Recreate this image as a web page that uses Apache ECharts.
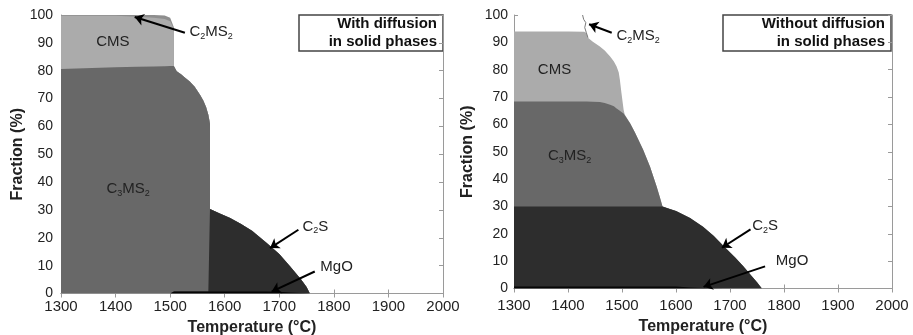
<!DOCTYPE html>
<html>
<head>
<meta charset="utf-8">
<script src="https://cdn.jsdelivr.net/npm/echarts@6/dist/echarts.min.js"></script>
<style>
html,body{margin:0;padding:0;background:#fff;}
#chart{width:913px;height:335px;}
</style>
</head>
<body>
<div id="chart"></div>
<script>
// left panel: with diffusion in solid phases (phase fractions, %)
const tempWith  = [1300,1400,1440,1470,1490,1500,1507,1507,1512,1520,1528,1536,1545,1555,1561,1566,1570,1573,1573,1590,1610,1630,1650,1677,1700,1720,1740,1750,1756];
const mgoWith   = [0,0,0,0,0,0,0.7,0.7,0.7,0.7,0.7,0.7,0.7,0.7,0.7,0.7,0.7,0.7,0.7,0.7,0.7,0.7,0.7,0.7,0.6,0.4,0.2,0.1,0];
const c2sWith   = [0,0,0,0,0,0,0,0,0,0,0,0,0,0,0,0,0,0,29.6,28.1,26.4,24.3,21.8,17.4,13.6,9.3,4.8,2.2,0];
const c3ms2With = [80.6,81.2,81.4,81.5,81.6,81.7,81.0,80.8,79.1,78.0,76.7,75.4,73.5,70.6,68.5,66.2,63.5,60.3,0,0,0,0,0,0,0,0,0,0,0];
const cmsWith   = [19.1,18.5,18.0,17.5,17.0,16.1,13.3,0,0,0,0,0,0,0,0,0,0,0,0,0,0,0,0,0,0,0,0,0,0];
const c2ms2With = [0.3,0.3,0.6,1.0,1.2,1.2,0.5,0,0,0,0,0,0,0,0,0,0,0,0,0,0,0,0,0,0,0,0,0,0];

// right panel: without diffusion in solid phases
const tempWithout  = [1300,1400,1430,1434,1437,1446,1459,1468,1478,1485,1490,1494,1496,1499,1503,1505,1515,1524,1539,1552,1564,1570,1575,1590,1600,1626,1650,1670,1688,1710,1725,1740,1750,1759];
const mgoWithout   = [0.7,0.7,0.7,0.7,0.7,0.7,0.7,0.7,0.7,0.7,0.7,0.7,0.7,0.7,0.7,0.7,0.7,0.7,0.7,0.7,0.7,0.7,0.7,0.7,0.7,0.4,0.2,0.1,0,0,0,0,0,0];
const c2sWithout   = [29.3,29.3,29.3,29.3,29.3,29.3,29.3,29.3,29.3,29.3,29.3,29.3,29.3,29.3,29.3,29.3,29.3,29.3,29.3,29.3,29.3,29.3,29.3,28.3,27.6,25.4,22.4,19.1,15.5,11.2,8.0,4.6,2.3,0];
const c3ms2Without = [38.4,38.4,38.4,38.4,38.4,38.3,38.2,37.8,37.2,36.6,35.8,35.3,34.9,34.5,34.0,33.6,30.4,27.0,20.8,14.5,7.4,3.5,0,0,0,0,0,0,0,0,0,0,0,0];
const cmsWithout   = [25.6,25.6,25.5,25.0,23.3,21.9,20.3,19.2,17.6,16.4,15.4,13.7,11.5,7.0,1.4,0,0,0,0,0,0,0,0,0,0,0,0,0,0,0,0,0,0,0];
// thin C2MS2 boundary (temperature, cumulative %)
const c2ms2EdgeTemp = [1427,1429,1433,1431,1434,1437];
const c2ms2EdgeFrac = [100,98.4,97.2,95.4,93.5,91.7];

// phase labels: [temperature, fraction, text]
const labelsWith = [[1395,90.2,'CMS'],[1423,37.5,'C3MS2'],[1575,94.0,'C2MS2'],[1766,24.1,'C2S'],[1805,9.7,'MgO']];
const labelsWithout = [[1375,80,'CMS'],[1403,48.5,'C3MS2'],[1530,92.2,'C2MS2'],[1765,22.8,'C2S'],[1815,10,'MgO']];
// arrows: [fromT, fromF, toT, toF]
const arrowsWith = [[1527,93.6,1435,99.3],[1735,22.9,1683,16.3],[1765,7.9,1686,0.7]];
const arrowsWithout = [[1481,93.5,1439,96.6],[1738,21.6,1685,14.9],[1765,8.1,1651,0.6]];

const FONT = '"Liberation Sans", Arial, sans-serif';
const colors = {mgo:'#050505', c2s:'#2d2d2d', c3ms2:'#686868', cms:'#ababab', c2ms2:'#8e8e8e'};

// running sums: each layer is filled from 0 up to its cumulative top,
// upper layers are drawn first so the lower ones cover them
function cumulative(layers) {
  let acc = layers[0].map(() => 0);
  return layers.map(l => (acc = acc.map((a, i) => +(a + l[i]).toFixed(2))));
}

function area(name, temps, tops, color, idx) {
  return {
    name: name, type: 'line', xAxisIndex: idx, yAxisIndex: idx,
    data: temps.map((t, i) => [t, tops[i]]),
    symbol: 'none', lineStyle: {width: 0}, areaStyle: {color: color, opacity: 1, origin: 'start'},
    itemStyle: {color: color}, silent: true
  };
}

function layerSeries(temps, names, layers, idx) {
  const tops = cumulative(layers);
  const out = [];
  for (let k = layers.length - 1; k >= 0; k--) {
    out.push(area(names[k], temps, tops[k], colors[names[k]], idx));
  }
  return out;
}

function richName(s) {
  return ('{n|' + s.replace(/(\d)/g, '}{s|$1}{n|') + '}').replace(/\{n\|\}/g, '');
}

function labelSeries(labels, arrows, idx) {
  return {
    type: 'scatter', xAxisIndex: idx, yAxisIndex: idx, symbolSize: 0,
    itemStyle: {color: 'rgba(0,0,0,0)'}, silent: true, z: 10,
    data: labels.map(l => ({value: [l[0], l[1]], label: {formatter: richName(l[2])}})),
    label: {
      show: true, position: 'inside', opacity: 1,
      rich: {
        n: {fontSize: 15, fontFamily: FONT, color: '#222', lineHeight: 18},
        s: {fontSize: 9, fontFamily: FONT, color: '#222', lineHeight: 10, verticalAlign: 'bottom'}
      }
    },
    markLine: {
      silent: true, symbol: ['none', 'arrow'], symbolSize: 9,
      lineStyle: {color: '#000', width: 2, type: 'solid'},
      label: {show: false},
      data: arrows.map(a => [{coord: [a[0], a[1]]}, {coord: [a[2], a[3]]}])
    }
  };
}

const axisGray = '#9a9a9a';
function xAx(idx, pos, margin, gap) {
  return {
    type: 'value', gridIndex: idx, position: pos, min: 1300, max: 2000, interval: 100,
    axisLine: {lineStyle: {color: axisGray}},
    axisTick: {inside: true, length: 4, lineStyle: {color: axisGray}},
    axisLabel: {show: pos === 'bottom', color: '#222', fontSize: 15, fontFamily: FONT, margin: margin,
      formatter: v => String(v)},
    splitLine: {show: false},
    name: pos === 'bottom' ? 'Temperature (°C)' : '', nameLocation: 'middle', nameGap: gap,
    nameTextStyle: {color: '#222', fontSize: 16, fontWeight: 'bold', fontFamily: FONT}
  };
}
function yAx(idx, pos, margin, gap) {
  return {
    type: 'value', gridIndex: idx, position: pos, min: 0, max: 100, interval: 10,
    axisLine: {show: true, lineStyle: {color: axisGray}},
    axisTick: {show: true, inside: true, length: 4, lineStyle: {color: axisGray}},
    axisLabel: {show: pos === 'left', color: '#222', fontSize: 14, fontFamily: FONT, margin: margin},
    splitLine: {show: false},
    name: pos === 'left' ? 'Fraction (%)' : '', nameLocation: 'middle', nameGap: gap,
    nameTextStyle: {color: '#222', fontSize: 16, fontWeight: 'bold', fontFamily: FONT}
  };
}

function box(x, w, text) {
  return {
    type: 'group', children: [
      {type: 'rect', shape: {x: x, y: 15, width: w, height: 36}, style: {fill: '#fff', stroke: '#444', lineWidth: 1.5}},
      {type: 'text', style: {text: text, x: x + w - 6, y: 33, align: 'right', verticalAlign: 'middle',
        lineHeight: 18, font: 'bold 15px ' + FONT, fill: '#111'}}
    ]
  };
}

const chart = echarts.init(document.getElementById('chart'));
const option = {
  animation: false,
  grid: [
    {left: 61, top: 15, width: 382, height: 278.5, outerBoundsMode: 'none'},
    {left: 514, top: 15, width: 378, height: 273.5, outerBoundsMode: 'none'}
  ],
  xAxis: [xAx(0, 'bottom', 6, 21), xAx(1, 'bottom', 10, 26), xAx(0, 'top', 0, 0), xAx(1, 'top', 0, 0)],
  yAxis: [yAx(0, 'left', 8, 35), yAx(1, 'left', 6, 38), yAx(0, 'right', 0, 0), yAx(1, 'right', 0, 0)],
  graphic: [
    box(299, 144, 'With diffusion\nin solid phases'),
    box(723, 168, 'Without diffusion\nin solid phases')
  ],
  series: [].concat(
    layerSeries(tempWith, ['mgo', 'c2s', 'c3ms2', 'cms', 'c2ms2'],
      [mgoWith, c2sWith, c3ms2With, cmsWith, c2ms2With], 0),
    layerSeries(tempWithout, ['mgo', 'c2s', 'c3ms2', 'cms'],
      [mgoWithout, c2sWithout, c3ms2Without, cmsWithout], 1),
    [{
      name: 'C2MS2', type: 'line', xAxisIndex: 1, yAxisIndex: 1, symbol: 'none', silent: true,
      data: c2ms2EdgeTemp.map((t, i) => [t, c2ms2EdgeFrac[i]]),
      lineStyle: {color: '#7a7a7a', width: 1}
    },
    labelSeries(labelsWith, arrowsWith, 0),
    labelSeries(labelsWithout, arrowsWithout, 1)]
  )
};
chart.setOption(option);
</script>
</body>
</html>
